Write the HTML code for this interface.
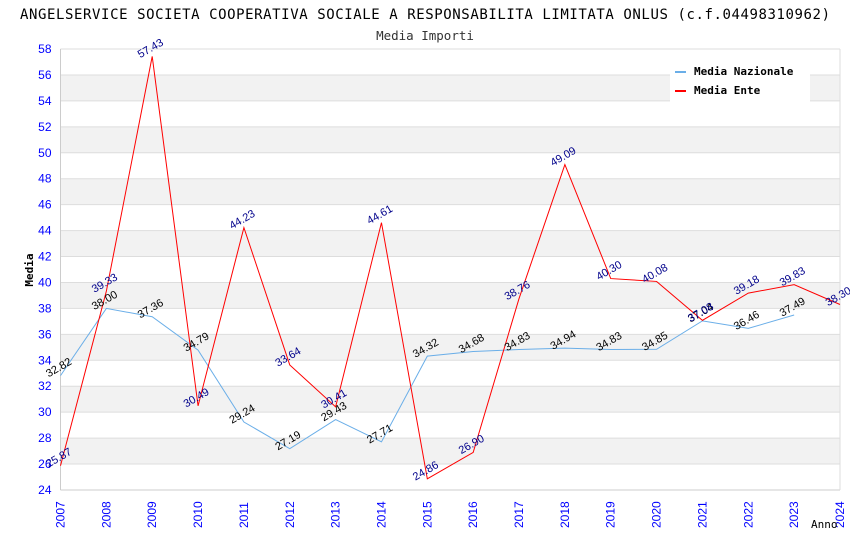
<!DOCTYPE html>
<html><head><meta charset="utf-8"><style>
body{margin:0;background:#fff}
svg{display:block}
</style></head><body>
<svg id="chart" width="850" height="550" xmlns="http://www.w3.org/2000/svg" font-family="'Liberation Sans', sans-serif">
<rect width="850" height="550" fill="#fff"/>
<text x="20" y="19" textLength="810" lengthAdjust="spacing" font-family="'DejaVu Sans Mono', 'Liberation Mono', monospace" font-size="14" fill="#000">ANGELSERVICE SOCIETA COOPERATIVA SOCIALE A RESPONSABILITA LIMITATA ONLUS (c.f.04498310962)</text>
<text x="425" y="40" text-anchor="middle" font-family="'DejaVu Sans Mono', 'Liberation Mono', monospace" font-size="12.5" fill="#333">Media Importi</text>
<g id="bands"></g>
<g id="grid"></g>
<g id="axes"></g>
<g id="series"></g>
<g id="labels"></g>
<text transform="translate(33,270) rotate(-90)" text-anchor="middle" font-family="'DejaVu Sans Mono', monospace" font-size="11" font-weight="bold" fill="#000">Media</text>
<text x="811" y="528" font-family="'DejaVu Sans Mono', monospace" font-size="11" fill="#000">Anno</text>
<g>
<rect x="670" y="60" width="140" height="42" fill="#fff"/>
<rect x="675" y="71" width="11" height="2" fill="#6aaee8"/>
<text x="694" y="75" font-family="'DejaVu Sans Mono', monospace" font-size="11" font-weight="bold">Media Nazionale</text>
<rect x="675" y="90" width="11" height="2" fill="#f00"/>
<text x="694" y="94" font-family="'DejaVu Sans Mono', monospace" font-size="11" font-weight="bold">Media Ente</text>
</g>
</svg>
<script>
const years = [2007,2008,2009,2010,2011,2012,2013,2014,2015,2016,2017,2018,2019,2020,2021,2022,2023,2024];
const nazionale = [32.82,38.00,37.36,34.79,29.24,27.19,29.43,27.71,34.32,34.68,34.83,34.94,34.83,34.85,37.04,36.46,37.49,null];
const ente = [25.87,39.33,57.43,30.49,44.23,33.64,30.41,44.61,24.86,26.90,38.76,49.09,40.30,40.08,37.08,39.18,39.83,38.30];
const yTicks = [24,26,28,30,32,34,36,38,40,42,44,46,48,50,52,54,56,58];
const NS='http://www.w3.org/2000/svg';
const L=60.5,R=840,T=49,B=490,yMin=24,yMax=58;
const xs=i=>L+(R-L)*i/(years.length-1);
const ys=v=>B-(v-yMin)/(yMax-yMin)*(B-T);
function mk(tag,attrs,parent){const e=document.createElementNS(NS,tag);for(const k in attrs)e.setAttribute(k,attrs[k]);parent.appendChild(e);return e;}
const bands=document.getElementById('bands'),grid=document.getElementById('grid'),axes=document.getElementById('axes'),series=document.getElementById('series'),labels=document.getElementById('labels');
for(let i=0;i<yTicks.length-1;i++){
  const v=yTicks[i];
  if(Math.floor(v/2)%2===1){
    const r=mk('rect',{x:L,y:ys(v+2),width:R-L,height:ys(v)-ys(v+2),fill:'#f2f2f2'},bands);
    
    
  }
}
yTicks.forEach(v=>{
  const g=mk('line',{x1:L,x2:R,y1:ys(v),y2:ys(v),stroke:'#ddd','stroke-width':1},grid);
  
  
  const t=mk('text',{x:L-9,y:ys(v)+4,'text-anchor':'end','font-size':12,fill:'#00f'},axes);
  t.textContent=v;
  
  
});
mk('line',{x1:L,x2:L,y1:T,y2:B,stroke:'#ccc'},axes);
mk('line',{x1:L,x2:R,y1:B,y2:B,stroke:'#ccc'},axes);
mk('line',{x1:R,x2:R,y1:T,y2:B,stroke:'#ddd'},axes);
years.forEach((y,i)=>{
  const t=mk('text',{transform:`translate(${xs(i)+4},${B+38}) rotate(-90)`,'font-size':12,fill:'#00f'},axes);
  t.textContent=y;
  
  
});
function drawSeries(arr,color,name,labelColor){
  const pts=[];arr.forEach((v,i)=>{if(v!==null)pts.push(xs(i)+','+ys(v));});
  const p=mk('polyline',{points:pts.join(' '),fill:'none',stroke:color,'stroke-width':1},series);
  
  
  arr.forEach((v,i)=>{
    if(v===null)return;
    const x=xs(i),y=ys(v);
    const t=mk('text',{transform:`translate(${x},${y-5}) rotate(-30)`,'text-anchor':'middle','font-size':11,fill:labelColor},labels);
    t.textContent=v.toFixed(2);
    
    
  });
}
drawSeries(nazionale,'#6aaee8','nazionale','#000');
drawSeries(ente,'#f00','ente','#00008b');
</script>
</body></html>
